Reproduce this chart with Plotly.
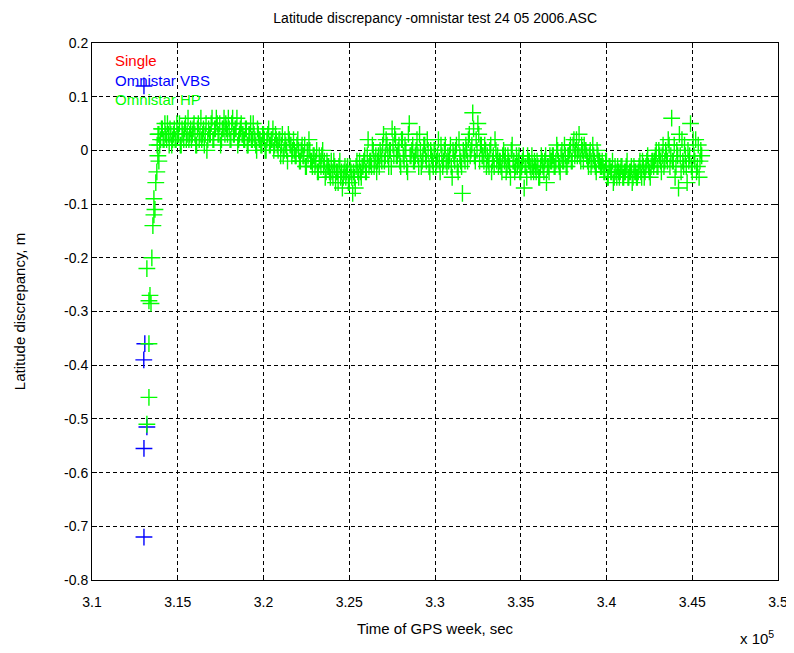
import numpy as np
import plotly.graph_objects as go

# ---------------- data ----------------
# Omnistar HP, regular epochs (sec of GPS week): two interleaved logs
hp_t0 = 313800
hp_step = 100
hp_vals = [
    0.01, 0.03, 0.02, 0.04, 0.02, 0.03, 0.05, 0.01, 0.03, 0.02,
    0.04, 0.02, 0.03, 0.05, 0.01, 0.03, 0.04, 0.02, 0.06, 0.03,
    0.02, 0.04, 0.03, 0.01, 0.05, 0.03, 0.02, 0.04, 0.03, 0.00,
    0.04, 0.03, 0.06, 0.02, 0.04, 0.05, 0.03, 0.01, 0.04, 0.06,
    0.05, 0.03, 0.04, 0.02, 0.06, 0.03, 0.04, 0.01, 0.03, 0.05,
    0.03, 0.02, 0.04, 0.01, 0.03, 0.02, 0.05, 0.02, 0.00, 0.03,
    0.02, 0.01, 0.03, 0.00, 0.02, 0.04, 0.01, 0.02, 0.00, 0.03,
    0.01, 0.02, -0.01, 0.03, 0.00, 0.01, -0.02, 0.02, 0.01, 0.00,
    0.00, -0.01, 0.02, -0.02, 0.00, -0.01, 0.01, -0.03, -0.01, 0.00,
    -0.02, -0.01, -0.03, 0.00, -0.04, -0.02, -0.01, -0.03, -0.05, -0.02,
    -0.03, -0.05, -0.04, -0.02, -0.06, -0.04, -0.03, -0.05, -0.07, -0.04,
    -0.05, -0.03, -0.06, -0.04, -0.08, -0.05, -0.03, -0.04, -0.02, -0.05,
    -0.03, -0.01, -0.04, 0.02, -0.02, -0.03, 0.00, -0.02, -0.04, -0.01,
    0.00, -0.02, 0.03, -0.01, 0.01, -0.03, 0.00, 0.04, -0.01, 0.02,
    -0.01, 0.01, -0.03, 0.02, -0.02, 0.00, -0.04, 0.05, -0.01, 0.01,
    -0.02, 0.00, -0.01, 0.03, -0.03, -0.01, 0.01, -0.02, 0.00, -0.04,
    -0.01, -0.03, 0.00, -0.02, 0.02, -0.04, -0.01, -0.02, 0.01, -0.03,
    -0.02, 0.01, -0.05, -0.01, 0.00, -0.03, 0.02, -0.02, -0.08, -0.01,
    0.01, -0.02, 0.03, 0.00, 0.07, -0.01, 0.02, 0.05, -0.02, 0.01,
    -0.01, 0.01, -0.03, -0.02, 0.00, -0.04, -0.01, 0.02, -0.02, -0.03,
    -0.02, -0.04, 0.00, -0.01, -0.03, -0.02, -0.05, 0.01, -0.02, -0.03,
    -0.03, -0.01, -0.04, -0.02, -0.07, -0.03, -0.01, -0.02, -0.04, -0.03,
    -0.02, -0.04, -0.03, -0.05, -0.01, -0.03, -0.02, -0.06, -0.03, -0.01,
    -0.02, -0.01, -0.03, 0.01, -0.02, -0.04, 0.00, -0.02, -0.01, -0.03,
    -0.01, 0.01, -0.02, 0.02, 0.00, -0.01, 0.03, -0.02, 0.00, 0.01,
    0.00, -0.02, -0.01, -0.03, 0.01, -0.02, -0.04, -0.01, -0.02, -0.03,
    -0.03, -0.04, -0.02, -0.05, -0.03, -0.04, -0.06, -0.03, -0.05, -0.04,
    -0.04, -0.03, -0.05, -0.04, -0.02, -0.05, -0.04, -0.06, -0.03, -0.04,
    -0.05, -0.03, -0.04, -0.02, -0.05, -0.03, -0.01, -0.04, -0.03, -0.02,
    -0.02, 0.00, -0.03, -0.01, -0.04, 0.01, -0.02, -0.01, 0.02, -0.03,
    0.06, -0.02, -0.05, 0.00, -0.07, -0.01, 0.02, -0.03, -0.01, -0.06,
    -0.02, 0.05, -0.04, -0.01, 0.02, -0.03, -0.05, 0.00,
]
hp_t0_b = 313850
hp_vals_b = [
    0.03, 0.01, 0.04, 0.02, 0.05, 0.02, 0.03, 0.04, 0.01, 0.03,
    0.02, 0.05, 0.03, 0.01, 0.04, 0.02, 0.05, 0.03, 0.02, 0.04,
    0.03, 0.05, 0.01, 0.04, 0.02, 0.06, 0.03, 0.01, 0.05, 0.02,
    0.03, 0.05, 0.02, 0.04, 0.06, 0.03, 0.05, 0.02, 0.04, 0.03,
    0.04, 0.06, 0.02, 0.05, 0.03, 0.04, 0.06, 0.02, 0.04, 0.03,
    0.02, 0.04, 0.01, 0.03, 0.05, 0.02, 0.03, 0.01, 0.04, 0.02,
    0.01, 0.03, 0.02, 0.00, 0.03, 0.01, 0.02, 0.04, 0.01, 0.02,
    0.00, 0.02, 0.01, -0.01, 0.02, 0.00, 0.03, 0.01, -0.01, 0.02,
    -0.01, 0.01, 0.00, -0.02, 0.01, -0.01, -0.03, 0.00, 0.02, -0.02,
    -0.03, -0.01, -0.02, -0.04, -0.01, -0.03, 0.00, -0.02, -0.04, -0.03,
    -0.04, -0.02, -0.05, -0.03, -0.04, -0.06, -0.02, -0.04, -0.05, -0.03,
    -0.04, -0.06, -0.03, -0.05, -0.04, -0.07, -0.02, -0.05, -0.04, -0.03,
    -0.02, -0.04, -0.01, -0.03, -0.02, 0.01, -0.03, -0.01, -0.02, -0.03,
    -0.01, 0.01, -0.02, 0.02, -0.01, 0.00, -0.03, 0.01, 0.03, -0.01,
    0.00, -0.02, 0.02, -0.01, 0.01, -0.03, 0.03, -0.01, 0.00, -0.02,
    -0.01, 0.02, -0.03, 0.00, -0.02, 0.01, -0.01, 0.02, -0.03, 0.00,
    -0.02, 0.00, -0.03, -0.01, -0.02, 0.01, -0.03, 0.00, -0.02, -0.01,
    -0.01, -0.03, 0.00, -0.02, 0.01, -0.04, -0.01, -0.03, 0.00, -0.02,
    0.00, 0.02, -0.01, 0.01, 0.04, -0.02, 0.00, 0.03, 0.01, -0.01,
    -0.02, 0.00, -0.01, -0.03, 0.01, -0.02, -0.03, 0.00, -0.01, -0.02,
    -0.03, -0.01, -0.02, -0.04, -0.01, -0.03, 0.00, -0.02, -0.04, -0.01,
    -0.02, -0.04, -0.03, -0.01, -0.03, -0.05, -0.02, -0.03, -0.01, -0.04,
    -0.03, -0.02, -0.05, -0.03, -0.02, -0.04, -0.01, -0.03, -0.04, -0.02,
    -0.01, -0.03, -0.02, 0.00, -0.03, -0.01, -0.02, 0.01, -0.03, -0.01,
    0.00, -0.02, 0.01, -0.01, 0.02, 0.00, -0.01, 0.01, -0.02, 0.00,
    -0.01, -0.03, 0.00, -0.02, -0.01, -0.03, 0.00, -0.02, -0.03, -0.02,
    -0.04, -0.02, -0.05, -0.03, -0.04, -0.02, -0.05, -0.04, -0.03, -0.05,
    -0.03, -0.05, -0.04, -0.03, -0.05, -0.04, -0.03, -0.05, -0.04, -0.05,
    -0.04, -0.02, -0.05, -0.03, -0.04, -0.02, -0.03, -0.05, -0.02, -0.03,
    -0.01, -0.03, 0.00, -0.02, -0.01, -0.03, 0.00, -0.02, 0.01, -0.01,
    -0.02, 0.01, -0.03, -0.01, 0.03, -0.04, -0.02, 0.01, -0.03, 0.00,
    -0.01, -0.03, 0.02, -0.02, -0.04, 0.01, -0.02, -0.01,
]
hp_time = hp_t0 + hp_step * np.arange(len(hp_vals))
hp_time_b = hp_t0_b + hp_step * np.arange(len(hp_vals_b))

# Omnistar HP convergence (start of session)
hp_conv_time = [313840, 313900, 313780, 313720, 313610, 313670, 313610, 313550,
                313490, 313200, 313380, 313440, 313320, 313320, 313320, 313200]
hp_conv_vals = [-0.01, -0.02, -0.04, -0.06, -0.09, -0.11, -0.12, -0.14,
                -0.20, -0.22, -0.27, -0.285, -0.28, -0.36, -0.46, -0.51]

# Omnistar VBS
vbs_time = [313030, 313080, 313020, 313200, 313030, 313030]
vbs_vals = [0.12, -0.36, -0.39, -0.515, -0.555, -0.72]

# Single (no points in view)
single_time = []
single_vals = []

x_ticks = [310000, 315000, 320000, 325000, 330000, 335000, 340000, 345000, 350000]
x_tick_text = ["3.1", "3.15", "3.2", "3.25", "3.3", "3.35", "3.4", "3.45", "3.5"]
y_ticks = [0.2, 0.1, 0, -0.1, -0.2, -0.3, -0.4, -0.5, -0.6, -0.7, -0.8]
y_tick_text = ["0.2", "0.1", "0", "-0.1", "-0.2", "-0.3", "-0.4", "-0.5", "-0.6", "-0.7", "-0.8"]

# ---------------- figure ----------------
FONT = "Liberation Sans, Arial, sans-serif"

def plus(color):
    return dict(symbol="cross-thin", size=12, color=color,
                line=dict(width=1.4, color=color))

fig = go.Figure()
fig.add_trace(go.Scatter(x=single_time, y=single_vals, mode="markers",
                         marker=plus("#ff0000"), name="Single"))
fig.add_trace(go.Scatter(x=vbs_time, y=vbs_vals, mode="markers",
                         marker=plus("#0000ff"), name="Omnistar VBS"))
fig.add_trace(go.Scatter(x=list(hp_conv_time) + list(hp_time) + list(hp_time_b),
                         y=list(hp_conv_vals) + list(hp_vals) + list(hp_vals_b),
                         mode="markers", marker=plus("#00ff00"), name="Omnistar HP"))

axis_common = dict(
    showline=True, linecolor="black", linewidth=1, mirror="ticks",
    ticks="inside", ticklen=5, tickcolor="black", automargin=False,
    showgrid=True, gridcolor="black", gridwidth=1, griddash="4px,3px",
    zeroline=False, tickfont=dict(family=FONT, size=14, color="black"),
)

# the page body keeps an 8px default margin, so the figure is sized to fit
fig.update_layout(
    width=786, height=645,
    margin=dict(l=84, r=16, t=35, b=73),
    paper_bgcolor="white", plot_bgcolor="white",
    showlegend=False,
    font=dict(family=FONT, size=14, color="black"),
    title=dict(text="Latitude discrepancy -omnistar test 24 05 2006.ASC",
               x=0.5435, xanchor="center", y=0.985, yanchor="middle",
               font=dict(family=FONT, size=14, color="black")),
    xaxis=dict(range=[310000, 350000], tickvals=x_ticks, ticktext=x_tick_text,
               ticklabelstandoff=9,
               title=dict(text="Time of GPS week, sec", standoff=14,
                          font=dict(family=FONT, size=15)), **axis_common),
    yaxis=dict(range=[-0.8, 0.2], tickvals=y_ticks, ticktext=y_tick_text,
               title=dict(text="Latitude discrepancy, m", standoff=34,
                          font=dict(family=FONT, size=15)), **axis_common),
)

# legend texts (MATLAB style, coloured text)
for i, (txt, col) in enumerate([("Single", "#ff0000"), ("Omnistar VBS", "#0000ff"),
                                 ("Omnistar HP", "#00ff00")]):
    fig.add_annotation(text=txt, xref="paper", yref="paper",
                       x=0.031, y=0.968 - i * 0.037, xanchor="left", yanchor="middle",
                       showarrow=False, font=dict(family=FONT, size=15, color=col))

fig.add_annotation(text="x 10<sup>5</sup>", xref="paper", yref="paper",
                   x=0.997, y=-0.108, xanchor="right", yanchor="middle",
                   showarrow=False, font=dict(family=FONT, size=15, color="black"))

fig.write_html("out.html")
